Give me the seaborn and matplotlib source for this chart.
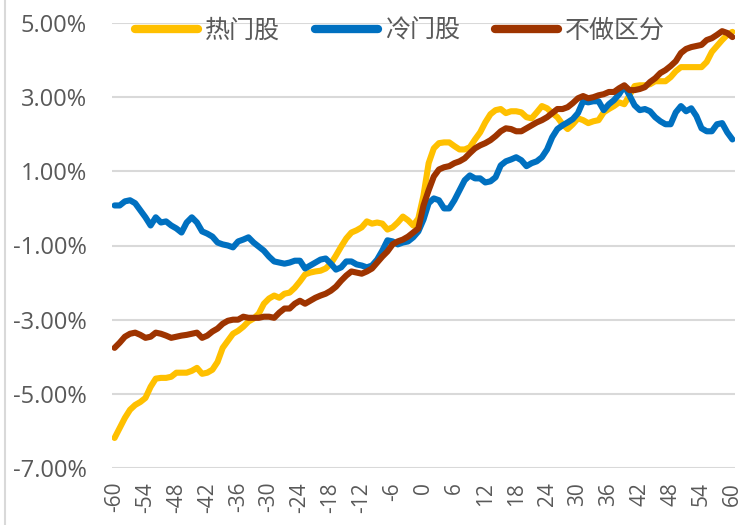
import numpy as np
import pandas as pd
import matplotlib
matplotlib.use("Agg")
import matplotlib.pyplot as plt
from matplotlib.lines import Line2D
import seaborn as sns

months = list(range(-60, 61))
series_names = ["热门股", "冷门股", "不做区分"]

hot = [-6.19, -5.92, -5.65, -5.43, -5.30, -5.22, -5.11, -4.81, -4.59, -4.57,
       -4.57, -4.54, -4.43, -4.43, -4.43, -4.38, -4.30, -4.46, -4.43, -4.35,
       -4.14, -3.76, -3.57, -3.38, -3.30, -3.19, -3.05, -2.97, -2.84, -2.57,
       -2.43, -2.35, -2.41, -2.30, -2.27, -2.14, -1.97, -1.78, -1.73, -1.70,
       -1.68, -1.62, -1.49, -1.27, -1.03, -0.81, -0.65, -0.59, -0.51, -0.35,
       -0.41, -0.38, -0.41, -0.57, -0.51, -0.38, -0.22, -0.32, -0.46, -0.27,
       0.35, 1.22, 1.62, 1.76, 1.78, 1.78, 1.68, 1.59, 1.59, 1.65,
       1.86, 2.05, 2.32, 2.54, 2.65, 2.68, 2.57, 2.62, 2.62, 2.59,
       2.46, 2.43, 2.59, 2.76, 2.70, 2.57, 2.46, 2.27, 2.14, 2.27,
       2.43, 2.38, 2.30, 2.35, 2.38, 2.59, 2.68, 2.76, 2.86, 2.81,
       3.05, 3.30, 3.32, 3.32, 3.35, 3.43, 3.43, 3.43, 3.54, 3.70,
       3.81, 3.81, 3.81, 3.81, 3.81, 3.95, 4.22, 4.38, 4.54, 4.68,
       4.76]

cold = [0.08, 0.08, 0.19, 0.22, 0.14, -0.05, -0.24, -0.46, -0.24, -0.38,
        -0.35, -0.46, -0.54, -0.65, -0.38, -0.24, -0.38, -0.62, -0.68, -0.76,
        -0.92, -0.97, -1.00, -1.05, -0.89, -0.84, -0.78, -0.92, -1.03, -1.14,
        -1.30, -1.43, -1.46, -1.49, -1.46, -1.41, -1.41, -1.62, -1.54, -1.46,
        -1.38, -1.35, -1.49, -1.65, -1.59, -1.43, -1.43, -1.51, -1.54, -1.59,
        -1.54, -1.38, -1.14, -0.86, -0.89, -0.97, -0.92, -0.89, -0.78, -0.62,
        -0.30, 0.14, 0.27, 0.22, 0.00, 0.00, 0.22, 0.49, 0.76, 0.89,
        0.81, 0.81, 0.70, 0.73, 0.84, 1.16, 1.27, 1.32, 1.38, 1.30,
        1.14, 1.22, 1.27, 1.38, 1.59, 1.92, 2.14, 2.24, 2.32, 2.41,
        2.57, 2.89, 2.86, 2.89, 2.89, 2.65, 2.81, 2.92, 3.08, 3.30,
        3.05, 2.78, 2.65, 2.68, 2.62, 2.46, 2.35, 2.27, 2.27, 2.59,
        2.76, 2.62, 2.70, 2.49, 2.16, 2.08, 2.08, 2.27, 2.30, 2.05,
        1.86]

all_stocks = [-3.76, -3.62, -3.46, -3.38, -3.35, -3.41, -3.49, -3.46, -3.35, -3.38,
              -3.43, -3.49, -3.46, -3.43, -3.41, -3.38, -3.35, -3.49, -3.43, -3.32,
              -3.24, -3.11, -3.03, -3.00, -3.00, -2.92, -2.95, -2.95, -2.95, -2.92,
              -2.92, -2.95, -2.81, -2.70, -2.70, -2.57, -2.49, -2.57, -2.49, -2.41,
              -2.35, -2.30, -2.22, -2.11, -1.95, -1.81, -1.70, -1.73, -1.76, -1.70,
              -1.62, -1.46, -1.30, -1.16, -0.97, -0.89, -0.84, -0.76, -0.65, -0.54,
              0.08, 0.49, 0.86, 1.05, 1.11, 1.14, 1.22, 1.27, 1.35, 1.49,
              1.62, 1.70, 1.76, 1.84, 1.95, 2.08, 2.16, 2.14, 2.08, 2.08,
              2.16, 2.24, 2.32, 2.38, 2.46, 2.57, 2.68, 2.68, 2.73, 2.84,
              2.97, 3.03, 2.97, 3.00, 3.05, 3.08, 3.14, 3.14, 3.24, 3.32,
              3.19, 3.19, 3.22, 3.27, 3.41, 3.51, 3.65, 3.73, 3.84, 3.97,
              4.19, 4.30, 4.35, 4.38, 4.41, 4.54, 4.59, 4.68, 4.78, 4.73,
              4.62]

y_ticks = [-7, -5, -3, -1, 1, 3, 5]
x_ticks = list(range(-60, 61, 6))

colors = ["#FFC000", "#0070C0", "#9E3400"]

df = pd.DataFrame({
    "month": months * 3,
    "value": hot + cold + all_stocks,
    "series": [series_names[0]] * len(months) + [series_names[1]] * len(months)
              + [series_names[2]] * len(months),
})

sns.set_theme(style="white")
plt.rcParams["font.family"] = ["Open Sans", "Noto Sans CJK SC", "DejaVu Sans"]

fig = plt.figure(figsize=(7.47, 5.25), dpi=100)
ax = fig.add_axes([112 / 747, 57 / 525, 623 / 747, 445 / 525])

sns.lineplot(data=df, x="month", y="value", hue="series", hue_order=series_names,
             palette=colors, linewidth=4.4, ax=ax, legend=False,
             solid_capstyle="round", solid_joinstyle="round")

ax.set_xlim(-60.5, 60.5)
ax.set_ylim(-7, 5)
ax.set_yticks(y_ticks)
ax.set_yticklabels([f"{v:.2f}%" for v in y_ticks])
ax.set_xticks(x_ticks)
ax.set_xticklabels([str(v) for v in x_ticks], rotation=90)
ax.set_xlabel("")
ax.set_ylabel("")
ax.grid(axis="y", color="#D9D9D9", linewidth=1.5)
ax.grid(axis="x", visible=False)
ax.set_axisbelow(True)
for s in ax.spines.values():
    s.set_visible(False)
ax.tick_params(axis="y", length=0, pad=18, labelsize=17, labelcolor="#595959")
ax.tick_params(axis="x", length=0, pad=10, labelsize=15, labelcolor="#595959")

handles = [Line2D([0], [0], color=c, linewidth=6, solid_capstyle="round") for c in colors]
leg = fig.legend(handles, series_names, loc="center", bbox_to_anchor=(0.536, 0.94),
                 ncol=3, frameon=False, fontsize=18, handlelength=2.5,
                 handletextpad=0.3, columnspacing=1.4, labelcolor="#595959")

fig.add_artist(Line2D([5 / 747, 5 / 747], [0, 1], transform=fig.transFigure,
                      color="#D9D9D9", linewidth=1.5))

fig.savefig("out.png", dpi=100)
